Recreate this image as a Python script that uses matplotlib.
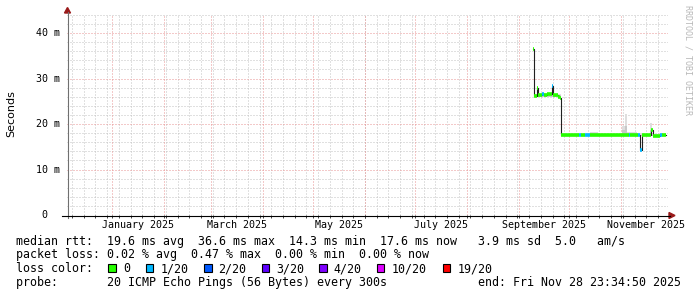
import matplotlib
matplotlib.use('Agg')
import matplotlib.pyplot as plt
import matplotlib.dates as mdates
import matplotlib.transforms as mtrans
from matplotlib.patches import Rectangle, Polygon
from matplotlib.lines import Line2D
from datetime import datetime, timedelta

# ---------------- data ----------------
end_time = datetime(2025, 11, 28, 23, 34, 50)
span_days = 359

# median rtt steps (start of step), values in ms, loss count (of 20)
med_dates = ["2025-09-09 12:00", "2025-09-10 00:00", "2025-09-11 12:00", "2025-09-12 06:00",
             "2025-09-15 00:00", "2025-09-15 18:00", "2025-09-18 00:00", "2025-09-20 12:00",
             "2025-09-21 12:00", "2025-09-24 00:00", "2025-09-25 12:00", "2025-09-26 00:00",
             "2025-10-07 00:00", "2025-10-07 18:00", "2025-10-10 12:00", "2025-10-13 12:00",
             "2025-11-05 12:00", "2025-11-06 06:00", "2025-11-11 06:00", "2025-11-12 00:00",
             "2025-11-13 06:00", "2025-11-19 00:00", "2025-11-19 18:00", "2025-11-24 12:00",
             "2025-11-25 12:00", "2025-11-27 12:00"]
med_ms = [36.6, 26.2, 28.0, 26.3, 26.5, 26.4, 26.6, 28.4, 26.4, 26.0, 25.8, 17.5,
          17.6, 17.5, 17.6, 17.5, 17.6, 17.5, 17.6, 14.3, 17.5, 18.7, 17.4, 17.6, 17.5, 17.5]
med_loss = [0, 0, 0, 0, 1, 0, 0, 1, 0, 0, 0, 0, 1, 0, 1, 0, 1, 0, 1, 1, 0, 0, 0, 1, 0, 0]

# smoke (ping spread) steps
smoke_dates = ["2025-09-09 12:00", "2025-09-10 00:00", "2025-09-14 12:00", "2025-09-21 00:00",
               "2025-09-26 00:00", "2025-10-13 12:00", "2025-10-18 06:00", "2025-11-01 12:00",
               "2025-11-03 00:00", "2025-11-04 06:00", "2025-11-10 12:00", "2025-11-18 12:00",
               "2025-11-19 12:00", "2025-11-27 12:00"]
smoke_lo = [36.6, 26.0, 26.0, 26.0, 17.3, 17.3, 17.3, 17.3, 17.3, 17.3, 17.3, 17.3, 17.3, 17.3]
smoke_hi = [36.6, 26.5, 26.9, 26.5, 17.7, 18.3, 17.8, 19.5, 22.3, 18.2, 17.8, 20.3, 17.8, 17.8]
smoke_mid = [36.6, 26.4, 26.7, 26.4, 17.6, 18.0, 17.7, 18.6, 19.6, 18.0, 17.7, 18.8, 17.7, 17.7]

loss_levels = ["0", "1/20", "2/20", "3/20", "4/20", "10/20", "19/20"]
loss_colors = ["#26ff00", "#00b8ff", "#0059ff", "#5e00ff", "#7e00ff", "#dd00ff", "#ff0000"]
loss_index = {0: 0, 1: 1, 2: 2, 3: 3, 4: 4, 10: 5, 19: 6}

y_ticks = [0, 10, 20, 30, 40]
y_tick_labels = [" 0", "10 m", "20 m", "30 m", "40 m"]
month_labels = [("January 2025", 2025, 1), ("March 2025", 2025, 3), ("May 2025", 2025, 5),
                ("July 2025", 2025, 7), ("September 2025", 2025, 9), ("November 2025", 2025, 11)]

legend_rows = [
    "median rtt:  19.6 ms avg  36.6 ms max  14.3 ms min  17.6 ms now   3.9 ms sd  5.0   am/s",
    "packet loss: 0.02 % avg  0.47 % max  0.00 % min  0.00 % now",
    "loss color:",
    "probe:       20 ICMP Echo Pings (56 Bytes) every 300s",
]
end_text = "end: Fri Nov 28 23:34:50 2025"

# ---------------- figure ----------------
W, H = 697, 297
MONO = "DejaVu Sans Mono"
fig = plt.figure(figsize=(W / 100, H / 100), dpi=100)
fig.patch.set_facecolor("white")


def fx(px):
    return px / W


def fy(py):
    return 1 - py / H


ax = fig.add_axes([fx(67), fy(215), 601 / W, 201 / H])
ax.set_facecolor("white")
for s in ax.spines.values():
    s.set_visible(False)

start_time = end_time - timedelta(days=span_days)
ax.set_xlim(start_time, end_time)
ax.set_ylim(0, 44.2)

# grid
minor_c = "#c2c2c2"
major_c = "#e89494"
dots = (0, (1, 2))
for v in range(2, 45, 2):
    if v % 10:
        ax.axhline(v, color=minor_c, lw=0.72, ls=dots, zorder=0.5)
weeks = []
d = datetime(2024, 12, 8)
while d < end_time:
    weeks.append(d)
    d += timedelta(days=7)
for w in weeks:
    ax.axvline(w, color=minor_c, lw=0.72, ls=dots, zorder=0.5)
months = [datetime(2025, m, 1) for m in range(1, 12)]
for m in months:
    ax.axvline(m, color=major_c, lw=0.72, ls=dots, zorder=0.6)
for v in range(10, 45, 10):
    ax.axhline(v, color=major_c, lw=0.72, ls=dots, zorder=0.6)

# smoke
sd = [datetime.strptime(s, "%Y-%m-%d %H:%M") for s in smoke_dates]
ax.fill_between(sd, smoke_lo, smoke_hi, step="post", color="#dedede", lw=0, zorder=1)
ax.fill_between(sd, smoke_lo, smoke_mid, step="post", color="#c8c8c8", lw=0, zorder=1.1)

# median line
md = [datetime.strptime(s, "%Y-%m-%d %H:%M") for s in med_dates]
ax.plot(md, med_ms, drawstyle="steps-post", color="#202020", lw=0.8, zorder=2)
for i in range(len(md) - 1):
    c = loss_colors[loss_index[med_loss[i]]]
    ax.hlines(med_ms[i], md[i], md[i + 1], color=c, lw=2.6, zorder=3)

# ticks
ax.set_xticks([])
ax.set_yticks([])
ax.set_xticks(sorted(weeks + months), minor=True)
ax.tick_params(axis="x", which="minor", length=2, width=0.7, color="#404040", direction="out")
ax.tick_params(axis="y", which="both", length=0)

blend = mtrans.blended_transform_factory(ax.transData, ax.transAxes)
for lab, yr, mo in month_labels:
    a = datetime(yr, mo, 1)
    b = datetime(yr + (mo == 12), mo % 12 + 1, 1)
    mid = a + (b - a) / 2
    ax.text(mid, -9.8 / 201, lab, transform=blend, ha="center", va="center",
            fontsize=7.2, family=MONO, color="#000000")

blend_y = mtrans.blended_transform_factory(fig.transFigure, ax.transData)
for v, lab in zip(y_ticks, y_tick_labels):
    fig.text(fx(36), v, lab, transform=blend_y, ha="left", va="center",
             fontsize=7.2, family=MONO, color="#000000")

# axes lines & arrows
fig.add_artist(Line2D([fx(67.5), fx(67.5)], [fy(218), fy(12)], color="#707070", lw=0.8))
fig.add_artist(Line2D([fx(62), fx(670)], [fy(215.5), fy(215.5)], color="#000000", lw=0.8))
fig.add_artist(Polygon([(fx(64.5), fy(13)), (fx(70.5), fy(13)), (fx(67.5), fy(7.5))],
                       closed=True, color="#9a1a1a", transform=fig.transFigure))
fig.add_artist(Polygon([(fx(669), fy(212.5)), (fx(669), fy(218.5)), (fx(675), fy(215.5))],
                       closed=True, color="#9a1a1a", transform=fig.transFigure))

# labels
fig.text(fx(11), fy(114), "Seconds", rotation=90, ha="center", va="center",
         fontsize=8, family="DejaVu Sans", color="#000000")
fig.text(fx(688), fy(60), "RRDTOOL / TOBI OETIKER", rotation=270, ha="center", va="center",
         fontsize=6, family=MONO, color="#b8b8b8")

# legend
LF = 8.4
baselines = [244.5, 258.3, 272.3, 286.3]
for row, yb in zip(legend_rows, baselines):
    fig.text(fx(16), fy(yb), row, ha="left", va="baseline", fontsize=LF, family=MONO, color="#000000")
fig.text(fx(681), fy(baselines[3]), end_text, ha="right", va="baseline", fontsize=LF,
         family=MONO, color="#000000")

sq_x = [108.3, 145.7, 204, 261.5, 319.3, 376.7, 442.7]
for x0, lab, col in zip(sq_x, loss_levels, loss_colors):
    fig.add_artist(Rectangle((fx(x0), fy(271.5)), 7.5 / W, 7.5 / H, transform=fig.transFigure,
                             facecolor=col, edgecolor="#000000", lw=0.8))
    fig.text(fx(x0 + 14.6), fy(baselines[2]), lab, ha="left", va="baseline", fontsize=LF,
             family=MONO, color="#000000")

fig.savefig("out.png", dpi=100, facecolor="white")
